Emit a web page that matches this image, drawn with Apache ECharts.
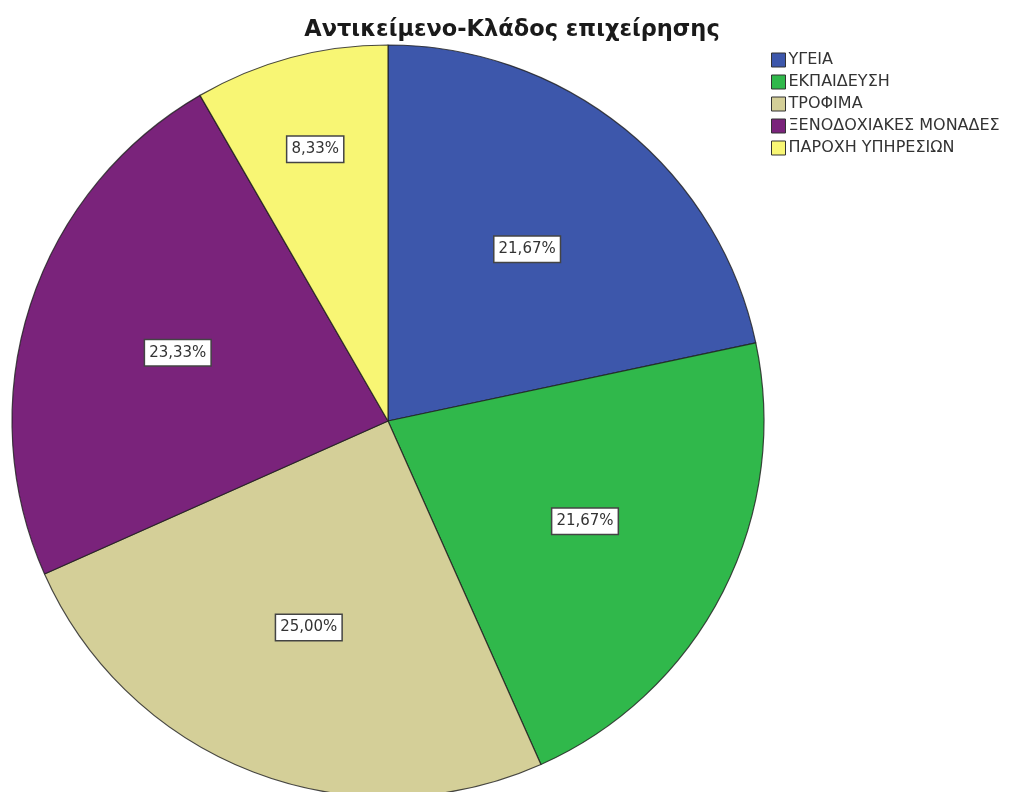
<!DOCTYPE html>
<html>
<head>
<meta charset="utf-8">
<script src="https://cdn.jsdelivr.net/npm/echarts@6/dist/echarts.min.js"></script>
<style>
  html, body { margin: 0; padding: 0; background: #ffffff; }
  #chart { width: 1011px; height: 792px; }
</style>
</head>
<body>
<div id="chart"></div>
<script>
// Business sector breakdown (counts per sector, n = 60)
const titleText = 'Αντικείμενο-Κλάδος επιχείρησης';
const categories = ['ΥΓΕΙΑ', 'ΕΚΠΑΙΔΕΥΣΗ', 'ΤΡΟΦΙΜΑ', 'ΞΕΝΟΔΟΧΙΑΚΕΣ ΜΟΝΑΔΕΣ', 'ΠΑΡΟΧΗ ΥΠΗΡΕΣΙΩΝ'];
const counts = [13, 13, 15, 14, 5];
const colors = ['#3d57ab', '#30b84b', '#d4cf98', '#7a237b', '#f8f674'];

const R = 376;
const total = counts.reduce((a, b) => a + b, 0);

// mid-angle of every slice (clockwise from 12 o'clock) for label placement
const midAngles = [];
let acc = 0;
counts.forEach(v => {
  const f = v / total;
  midAngles.push((acc + f / 2) * Math.PI * 2);
  acc += f;
});

const data = categories.map((name, i) => ({
  name: name,
  value: counts[i],
  itemStyle: { color: colors[i] }
}));

const chart = echarts.init(document.getElementById('chart'), null, { renderer: 'canvas' });
chart.setOption({
  backgroundColor: '#ffffff',
  animation: false,
  title: {
    text: titleText,
    left: 507,
    textAlign: 'center',
    top: 14,
    textStyle: { fontFamily: 'DejaVu Sans', fontWeight: 'bold', fontSize: 22.5, color: '#1a1a1a' }
  },
  legend: {
    orient: 'vertical',
    left: 766,
    top: 47,
    itemWidth: 14,
    itemHeight: 14,
    itemGap: 6,
    icon: 'rect',
    selectedMode: false,
    itemStyle: { borderColor: '#333', borderWidth: 1 },
    textStyle: { fontFamily: 'DejaVu Sans', fontSize: 16, color: '#333', padding: [0, 0, 0, -2] },
    data: categories
  },
  series: [{
    type: 'pie',
    center: [388, 421],
    radius: R,
    startAngle: 90,
    clockwise: true,
    avoidLabelOverlap: false,
    itemStyle: { borderColor: 'rgba(30,30,30,0.8)', borderWidth: 1.2 },
    label: {
      position: 'inside',
      formatter: p => (p.value / total * 100).toFixed(2).replace('.', ',') + '%',
      fontFamily: 'DejaVu Sans',
      fontSize: 15,
      color: '#333',
      backgroundColor: '#ffffff',
      borderColor: '#444',
      borderWidth: 1.5,
      padding: [5, 4]
    },
    labelLine: { show: false },
    labelLayout: function (params) {
      const i = params.dataIndex;
      const frac = counts[i] / total;
      const rf = frac < 0.1 ? 0.74 : 0.58;
      const extra = (rf - 0.5) * R;
      return { dx: extra * Math.sin(midAngles[i]), dy: -extra * Math.cos(midAngles[i]) };
    },
    emphasis: { disabled: true },
    data: data
  }]
});
</script>
</body>
</html>
